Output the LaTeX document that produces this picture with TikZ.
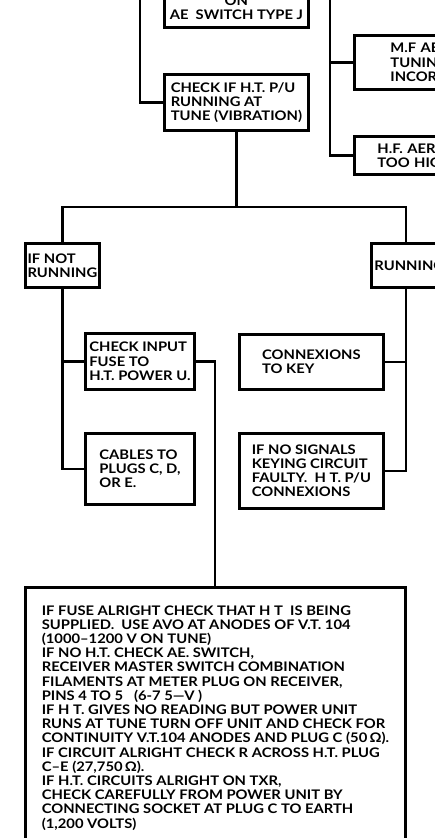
\documentclass[tikz,border=0pt]{standalone}
\usepackage{fontspec}
\setmainfont{Lato}[FakeStretch=1.12]
\begin{document}
\begin{tikzpicture}[x=1pt,y=-1pt,
  box/.style={draw, line width=2.8pt, anchor=north west, inner sep=0pt, align=left,
              font=\fontsize{13.2}{14.2}\selectfont\bfseries},
  wire/.style={line width=2.8pt}]
\useasboundingbox (0,0) rectangle (435,838);
\clip (0,0) rectangle (435,838);
\fill[white] (0,0) rectangle (435,838);
% nodes
\node[box, align=center, minimum width=144pt, minimum height=40pt] (top) at (163,-14) {ON\\AE\ \ SWITCH TYPE J};
\node[box, minimum width=144pt, minimum height=56pt] (chk) at (163,73) {CHECK IF H.T. P/U\\RUNNING AT\\TUNE (VIBRATION)};
\node[box, inner xsep=36pt, text width=110pt, minimum height=54pt] (mf) at (353,34) {M.F AERIAL\\TUNING\\INCORRECT};
\node[box, inner xsep=23pt, text width=110pt, minimum height=38pt] (hf) at (353,135) {H.F. AERIAL\\TOO HIGH};
\node[box, minimum width=74pt, minimum height=44pt] (notrun) at (24,242) {IF NOT\\RUNNING};
\node[box, inner xsep=3pt, text width=90pt, minimum height=44pt] (run) at (370,242) {RUNNING};
\node[box, minimum width=109pt, minimum height=56pt] (fuse) at (84,332) {CHECK INPUT\\FUSE TO\\H.T. POWER U.};
\node[box, minimum width=144pt, minimum height=55pt] (conn) at (238,333) {CONNEXIONS\\TO KEY};
\node[box, minimum width=109pt, minimum height=71pt] (cables) at (84,432) {CABLES TO\\PLUGS C, D,\\OR E.};
\node[box, minimum width=144pt, minimum height=75pt] (sig) at (238,432) {IF NO SIGNALS\\KEYING CIRCUIT\\FAULTY.\ \ H T. P/U\\CONNEXIONS};
\node[box, minimum width=380pt, minimum height=261pt] (big) at (24,586) {IF FUSE ALRIGHT CHECK THAT H T\ \ IS BEING\\
SUPPLIED.\ \ USE AVO AT ANODES OF V.T. 104\\
(1000--1200 V ON TUNE)\\
IF NO H.T. CHECK AE. SWITCH,\\
RECEIVER MASTER SWITCH COMBINATION\\
FILAMENTS AT METER PLUG ON RECEIVER,\\
PINS 4 TO 5\ \ \ (6-7 5---V )\\
IF H T. GIVES NO READING BUT POWER UNIT\\
RUNS AT TUNE TURN OFF UNIT AND CHECK FOR\\
CONTINUITY V.T.104 ANODES AND PLUG C (50\,Ω).\\
IF CIRCUIT ALRIGHT CHECK R ACROSS H.T. PLUG\\
C--E\ (27,750\,Ω).\\
IF H.T. CIRCUITS ALRIGHT ON TXR,\\
CHECK CAREFULLY FROM POWER UNIT BY\\
CONNECTING SOCKET AT PLUG C TO EARTH\\
(1,200 VOLTS)};
% helper coordinates
\coordinate (tl) at (140,-5);
\coordinate (tr) at (330,-5);
\coordinate (bus) at (0,207);
\coordinate (rx) at (406,0);
\coordinate (fx) at (215,0);
% connectors
\draw[wire] (tl) |- (chk.west);
\draw[wire] (tr) |- (hf.west);
\draw[wire] (tr |- mf.west) -- (mf.west);
\draw[wire] (chk.south) -- (chk.south |- bus);
\draw[wire] (notrun.north) |- (bus -| rx) -- (run.north -| rx);
\draw[wire] (notrun.south) |- (cables.west);
\draw[wire] (notrun.south |- fuse.west) -- (fuse.west);
\draw[wire] (run.south -| rx) |- (sig.east);
\draw[wire] (conn.east) -- (conn.east -| rx);
\draw[wire] (fuse.east) -| (big.north -| fx);
\end{tikzpicture}
\end{document}
